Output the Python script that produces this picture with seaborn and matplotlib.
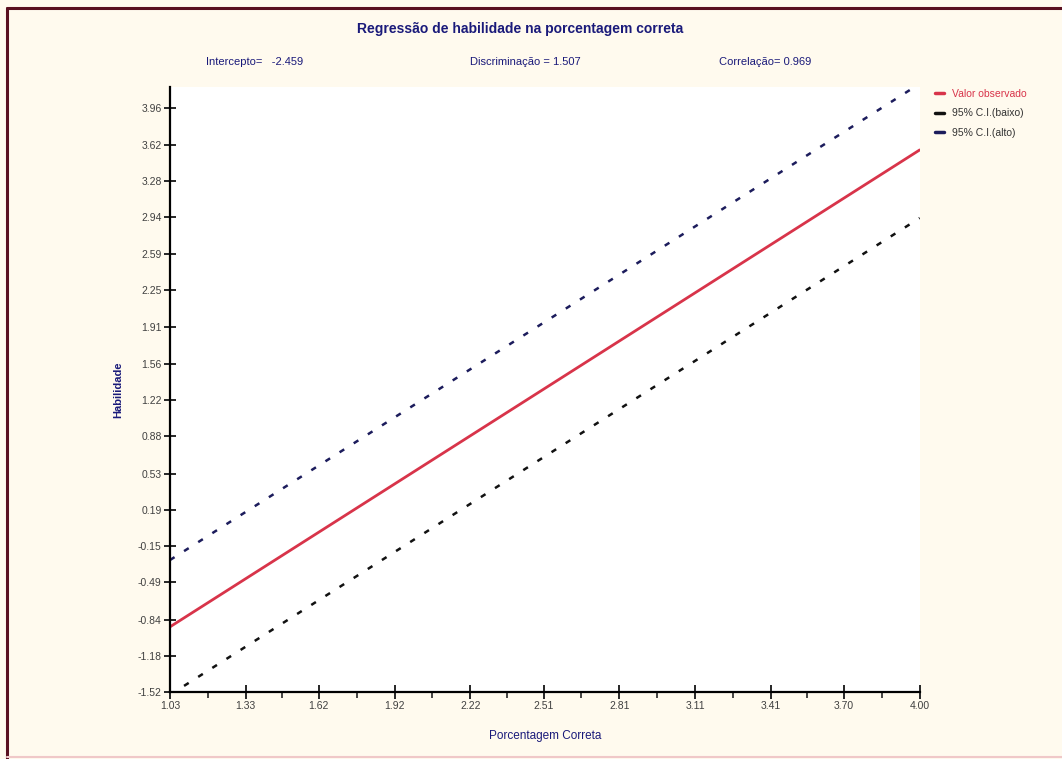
import matplotlib
matplotlib.use("Agg")
import matplotlib.pyplot as plt
import seaborn as sns
import pandas as pd
import numpy as np
from matplotlib.lines import Line2D

# ---- data ----
x_vals = [1.03, 4.00]
observed = [-0.907, 3.569]
ci_low = [-1.545, 2.93]
ci_high = [-0.28, 4.19]

xtick_vals = [1.03, 1.33, 1.62, 1.92, 2.22, 2.51, 2.81, 3.11, 3.41, 3.70, 4.00]
xtick_labels = ["1.03", "1.33", "1.62", "1.92", "2.22", "2.51", "2.81", "3.11", "3.41", "3.70", "4.00"]
ytick_vals = [-1.52, -1.18, -0.84, -0.49, -0.15, 0.19, 0.53, 0.88, 1.22,
              1.56, 1.91, 2.25, 2.59, 2.94, 3.28, 3.62, 3.96]
ytick_labels = ["-1.52", "-1.18", "-0.84", "-0.49", "-0.15", "0.19", "0.53", "0.88", "1.22",
                "1.56", "1.91", "2.25", "2.59", "2.94", "3.28", "3.62", "3.96"]

series_names = ["Valor observado", "95% C.I.(baixo)", "95% C.I.(alto)"]
title = "Regressão de habilidade na porcentagem correta"
stats = ["Intercepto=   -2.459", "Discriminação = 1.507", "Correlação= 0.969"]

df = pd.DataFrame({
    "x": x_vals * 3,
    "y": observed + ci_low + ci_high,
    "serie": [series_names[0]] * 2 + [series_names[1]] * 2 + [series_names[2]] * 2,
})

sns.set_style("white")
plt.rcParams["font.family"] = ["Liberation Sans", "DejaVu Sans"]

bg = "#fffaee"
navy = "#1a1a7a"
fig = plt.figure(figsize=(10.62, 7.59), dpi=100, facecolor=bg)
ax = fig.add_axes([0.160, 0.088, 0.706, 0.797])
ax.set_facecolor("white")

palette = {series_names[0]: "#d8344a", series_names[1]: "#111111", series_names[2]: "#1c1c5c"}
sns.lineplot(data=df, x="x", y="y", hue="serie", palette=palette, ax=ax, legend=False,
             estimator=None, sort=False)
lines = ax.get_lines()
lines[0].set_linewidth(2.0)
for ln in lines[1:3]:
    ln.set_linewidth(1.8)
    ln.set_linestyle((0, (2.2, 4.5)))

ax.set_xlim(1.03, 4.00)
ax.set_ylim(-1.52, 4.157)
ax.set_xticks(xtick_vals)
ax.set_xticklabels(xtick_labels)
ax.set_xticks([(a + b) / 2 for a, b in zip(xtick_vals[:-1], xtick_vals[1:])], minor=True)
ax.set_yticks(ytick_vals)
ax.set_yticklabels(ytick_labels)

for s in ["top", "right"]:
    ax.spines[s].set_visible(False)
for s in ["left", "bottom"]:
    ax.spines[s].set_color("black")
    ax.spines[s].set_linewidth(1.6)

ax.tick_params(axis="y", which="major", direction="inout", length=8, width=1.4,
               labelsize=7.5, labelcolor="#404040", left=True, pad=2)
ax.tick_params(axis="x", which="major", direction="inout", length=10, width=1.4,
               labelsize=7.5, labelcolor="#404040", bottom=True, pad=1)
ax.tick_params(axis="x", which="minor", direction="out", length=4, width=1.2, bottom=True)

ax.set_xlabel("Porcentagem Correta", color=navy, fontsize=8.5, labelpad=14)
ax.set_ylabel("Habilidade", color=navy, fontsize=8, fontweight="bold", labelpad=10)

fig.text(0.49, 0.962, title, ha="center", va="center", color=navy, fontsize=10, fontweight="bold")
fig.text(0.24, 0.918, stats[0], ha="center", va="center", color=navy, fontsize=8)
fig.text(0.495, 0.918, stats[1], ha="center", va="center", color=navy, fontsize=8)
fig.text(0.72, 0.918, stats[2], ha="center", va="center", color=navy, fontsize=8)

handles = [Line2D([0], [0], color=palette[n], lw=2.5) for n in series_names]
leg = fig.legend(handles, series_names, loc="upper left", bbox_to_anchor=(0.872, 0.895),
                 frameon=False, handlelength=0.8, handletextpad=0.8, labelspacing=0.9,
                 fontsize=7.5, labelcolor=["#d8344a", "#333333", "#333333"])

# window border
fig.add_artist(Line2D([0.007, 1.0], [0.990, 0.990], color="#5a1020", lw=2.2, transform=fig.transFigure))
fig.add_artist(Line2D([0.007, 0.007], [0.0, 0.990], color="#5a1020", lw=2.2, transform=fig.transFigure))
fig.add_artist(Line2D([0.007, 1.0], [0.003, 0.003], color="#f0c8c8", lw=1.5, transform=fig.transFigure))

fig.savefig("out.png", dpi=100, facecolor=bg)
